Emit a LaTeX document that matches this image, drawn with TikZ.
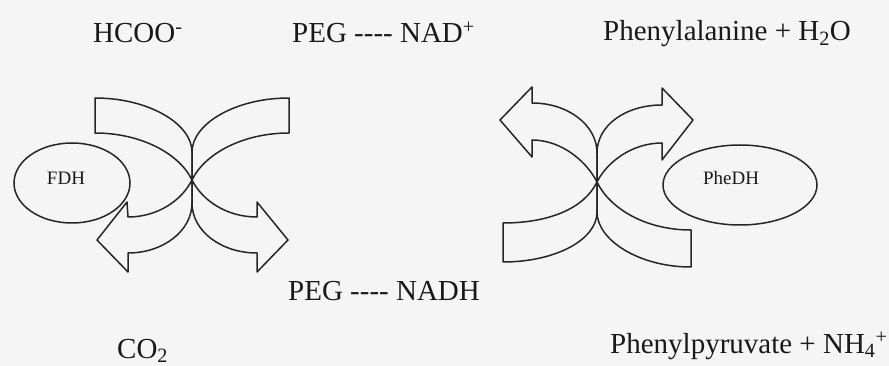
\documentclass[tikz,border=0pt]{standalone}
\usepackage{fontspec}
\setmainfont{Liberation Serif}
\usetikzlibrary{shapes.geometric}
\begin{document}
\begin{tikzpicture}[x=1pt,y=-1pt,
  band/.style={draw=black!85,line width=1.5pt,line join=round},
  enz/.style={ellipse,draw=black!85,line width=1.5pt,inner sep=0pt},
  lbl/.style={inner sep=0pt,anchor=base west,font=\fontsize{29}{33}\selectfont,text=black!90},
  elbl/.style={inner sep=0pt,font=\fontsize{19}{22}\selectfont,text=black!90}]
\fill[black!4] (0,0) rectangle (889,366);
\useasboundingbox (0,0) rectangle (889,366);

% enzymes
\node[enz,minimum width=116pt,minimum height=80pt] (fdh) at (72,183) {};
\node[elbl] (fdht) at ([shift={(-6,-5)}]fdh.center) {FDH};
\node[enz,minimum width=154pt,minimum height=80pt] (phedh) at (740,185) {};
\node[elbl] (phedht) at ([shift={(-9,-7)}]phedh.center) {PheDH};

% left pair of crossed arrows
\draw[band] (95,98) .. controls (149,98) and (192,124) .. (192,152) -- (192,203)
  .. controls (192,231) and (163,253) .. (128,253) -- (128,272) -- (97,240)
  -- (127,202) -- (128,217) .. controls (158,217) and (182,200) .. (192,180)
  .. controls (179,153) and (140,133) .. (95,133) -- cycle;
\draw[band] (289,98) .. controls (235,98) and (192,124) .. (192,152) -- (192,203)
  .. controls (192,231) and (221,253) .. (257,253) -- (257,272) -- (288,240)
  -- (257,202) -- (257,217) .. controls (226,217) and (202,200) .. (192,180)
  .. controls (205,153) and (244,133) .. (289,133) -- cycle;

% right pair of crossed arrows
\draw[band] (503,262) .. controls (555,262) and (597,240) .. (597,212) -- (597,153)
  .. controls (597,125) and (568,103) .. (532,103) -- (532,87) -- (500,120)
  -- (532,157) -- (532,140) .. controls (562,140) and (587,162) .. (597,182)
  .. controls (584,209) and (548,223) .. (503,223) -- cycle;
\draw[band] (691,267) .. controls (639,267) and (597,240) .. (597,212) -- (597,153)
  .. controls (597,125) and (626,105) .. (662,105) -- (662,88) -- (693,120)
  -- (662,160) -- (662,143) .. controls (632,143) and (607,162) .. (597,182)
  .. controls (610,209) and (646,230) .. (691,230) -- cycle;

% labels
\node[lbl] (hcoo) at (93,43) {HCOO\textsuperscript{-}};
\node[lbl] (nadp) at (292,43) {PEG \mbox{-}\mbox{-}\mbox{-}\mbox{-} NAD\textsuperscript{+}};
\node[lbl] (phe) at (603,41) {Phenylalanine + H\textsubscript{2}O};
\node[lbl] (nadh) at (288,300) {PEG \mbox{-}\mbox{-}\mbox{-}\mbox{-} NADH};
\node[lbl] (co2) at (117,358) {CO\textsubscript{2}};
\node[lbl] (ppy) at (610,353) {Phenylpyruvate + NH\textsubscript{4}\textsuperscript{+}};
\end{tikzpicture}
\end{document}
